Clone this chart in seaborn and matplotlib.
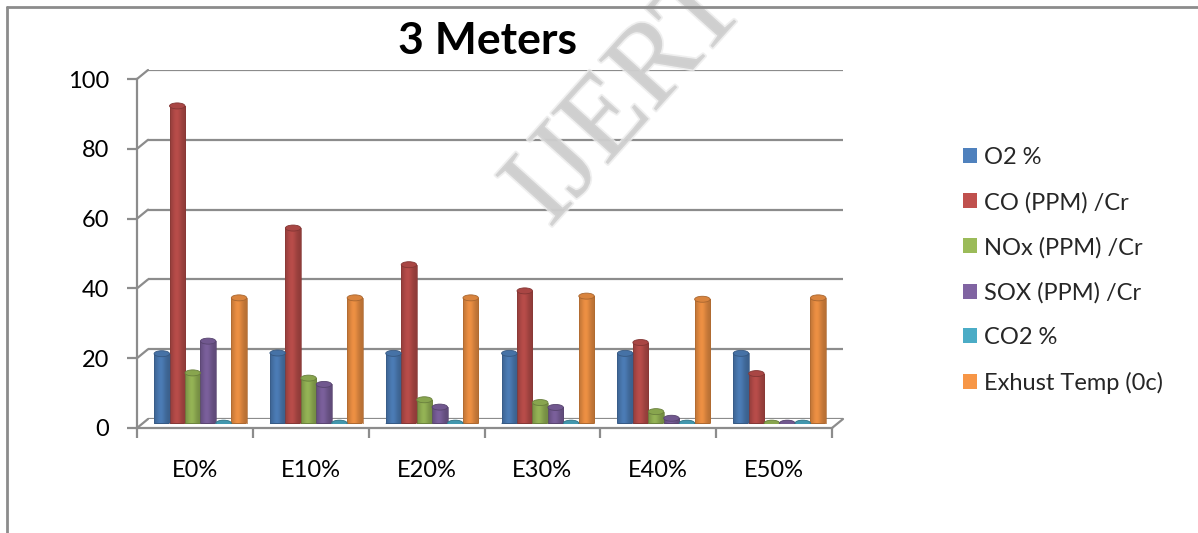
import numpy as np
import pandas as pd
import matplotlib
matplotlib.use("Agg")
import matplotlib.pyplot as plt
import matplotlib.patheffects as pe
import seaborn as sns
from matplotlib.patches import Ellipse, Patch
from matplotlib.lines import Line2D

# Exhaust emissions at 3 meters for each ethanol blend
blends = ["E0%", "E10%", "E20%", "E30%", "E40%", "E50%"]
o2 = [20.0, 20.2, 20.1, 20.1, 20.1, 20.1]
co = [91.0, 56.0, 45.5, 38.0, 23.2, 14.3]
nox = [14.5, 13.0, 6.8, 6.0, 3.4, 0.1]
sox = [23.6, 11.2, 4.7, 4.6, 1.5, 0.1]
co2 = [0.1, 0.1, 0.1, 0.1, 0.1, 0.1]
exhaust = [36.0, 36.0, 36.0, 36.5, 35.6, 36.0]

series_names = ["O2 %", "CO (PPM) /Cr", "NOx (PPM) /Cr", "SOX (PPM) /Cr",
                "CO2 %", "Exhust Temp (0c)"]
series_colors = ["#4F81BD", "#C0504D", "#9BBB59", "#8064A2", "#4BACC6", "#F79646"]
y_ticks = [0, 20, 40, 60, 80, 100]

table = pd.DataFrame({"Blend": blends,
                      series_names[0]: o2, series_names[1]: co,
                      series_names[2]: nox, series_names[3]: sox,
                      series_names[4]: co2, series_names[5]: exhaust})
long = table.melt(id_vars="Blend", var_name="Parameter", value_name="Value")

sns.set_theme(style="white")
plt.rcParams["font.family"] = ["Lato", "DejaVu Sans"]

W, H = 1198, 533
fig = plt.figure(figsize=(W / 100, H / 100), dpi=100)
fig.patch.set_facecolor("white")
GRID = "#8c8c8c"


def px_axes(left, zero_y, width, height):
    ax = fig.add_axes([left / W, (H - zero_y) / H, width / W, height / H])
    ax.set_facecolor("none")
    for s in ax.spines.values():
        s.set_visible(False)
    return ax


# three depth planes of the pseudo-3D chart: back wall, bar row, front axes
ax_back = px_axes(148, 419, 695, 349)
ax_mid = px_axes(142.5, 423.5, 695, 349)
ax_front = px_axes(137, 428, 695, 349)
n_cat = len(blends)
for ax in (ax_back, ax_mid, ax_front):
    ax.set_xlim(-0.5, n_cat - 0.5)
    ax.set_ylim(0, 100)

# back wall gridlines
for v in y_ticks:
    ax_back.axhline(v, color=GRID, lw=1.6, zorder=0)
ax_back.set_xticks([])
ax_back.set_yticks([])

# publisher watermark, behind the bars
fig.text(628 / W, 1 - 100 / H, "IJERT", rotation=48, ha="center", va="center",
         fontsize=84, family="Liberation Serif", color="#cdcdcd", alpha=0.8,
         path_effects=[pe.withStroke(linewidth=2.5, foreground="#ececec")],
         zorder=0.5)

# bars
sns.barplot(data=long, x="Blend", y="Value", hue="Parameter",
            hue_order=series_names, palette=series_colors, width=0.8,
            saturation=1, errorbar=None, legend=False, ax=ax_mid)
ax_mid.set_xlabel("")
ax_mid.set_ylabel("")
ax_mid.set_xticks([])
ax_mid.set_yticks([])

# cylinder shading and rounded ends on every bar
t = np.linspace(0, 1, 64)
shade = 0.74 + 0.22 * np.exp(-((t - 0.42) / 0.32) ** 2)
cap = 6 / 3.49
for bar in list(ax_mid.patches):
    x0, w, h = bar.get_x(), bar.get_width(), bar.get_height()
    rgb = np.array(bar.get_facecolor()[:3])
    grad = np.clip(rgb[None, None, :] * shade[None, :, None], 0, 1)
    ax_mid.add_patch(Ellipse((x0 + w / 2, 0), w, cap, facecolor=rgb * 0.7,
                             edgecolor="none", zorder=1.9))
    im = ax_mid.imshow(grad, extent=[x0, x0 + w, 0, h], aspect="auto",
                       interpolation="bilinear", zorder=2)
    im.set_clip_path(bar)
    bar.set_facecolor("none")
    bar.set_edgecolor(rgb * 0.7)
    bar.set_linewidth(0.5)
    bar.set_zorder(2.05)
    ax_mid.add_patch(Ellipse((x0 + w / 2, h), w, cap, facecolor=rgb * 0.88,
                             edgecolor=rgb * 0.68, linewidth=0.6, zorder=2.1))
ax_mid.set_xlim(-0.5, n_cat - 0.5)
ax_mid.set_ylim(0, 100)

# front axes: value axis and category axis
ax_front.spines["left"].set_visible(True)
ax_front.spines["bottom"].set_visible(True)
for s in ("left", "bottom"):
    ax_front.spines[s].set_color(GRID)
    ax_front.spines[s].set_linewidth(1.6)
ax_front.set_yticks(y_ticks)
ax_front.set_yticklabels([str(v) for v in y_ticks], fontsize=17, color="black")
ax_front.tick_params(axis="y", direction="out", length=7, width=1.6,
                     color=GRID, pad=13, left=True)
ax_front.set_xticks(range(n_cat))
ax_front.set_xticklabels(blends, fontsize=17, color="black")
ax_front.set_xticks(np.arange(-0.5, n_cat, 1), minor=True)
ax_front.tick_params(axis="x", which="major", length=0, pad=23)
ax_front.tick_params(axis="x", which="minor", direction="out", length=7,
                     width=1.6, color=GRID, bottom=True)

# depth edges joining the front axes to the back wall
to_fig = fig.transFigure.inverted()
edges = [(-0.5, v) for v in y_ticks] + [(n_cat - 0.5, 0)]
for xv, yv in edges:
    p1 = to_fig.transform(ax_front.transData.transform((xv, yv)))
    p2 = to_fig.transform(ax_back.transData.transform((xv, yv)))
    fig.add_artist(Line2D([p1[0], p2[0]], [p1[1], p2[1]], color=GRID,
                          lw=1.6, transform=fig.transFigure))

# title
fig.text(487 / W, 1 - 41 / H, "3 Meters", ha="center", va="center",
         fontsize=32, fontweight="bold", color="black")

# legend
handles = [Patch(facecolor=c, edgecolor="none") for c in series_colors]
fig.legend(handles, series_names, loc="upper left",
           bbox_to_anchor=(963 / W, 1 - 147 / H), frameon=False, fontsize=17,
           handlelength=0.6, handleheight=0.6, handletextpad=0.3,
           labelspacing=1.0, borderpad=0, borderaxespad=0)

# chart frame
fig.add_artist(Line2D([7 / W, 7 / W], [0, 1 - 7 / H], color=GRID, lw=2,
                      transform=fig.transFigure))
fig.add_artist(Line2D([7 / W, 1], [1 - 7 / H, 1 - 7 / H], color=GRID, lw=2,
                      transform=fig.transFigure))

fig.savefig("out.png", dpi=100, facecolor="white")
